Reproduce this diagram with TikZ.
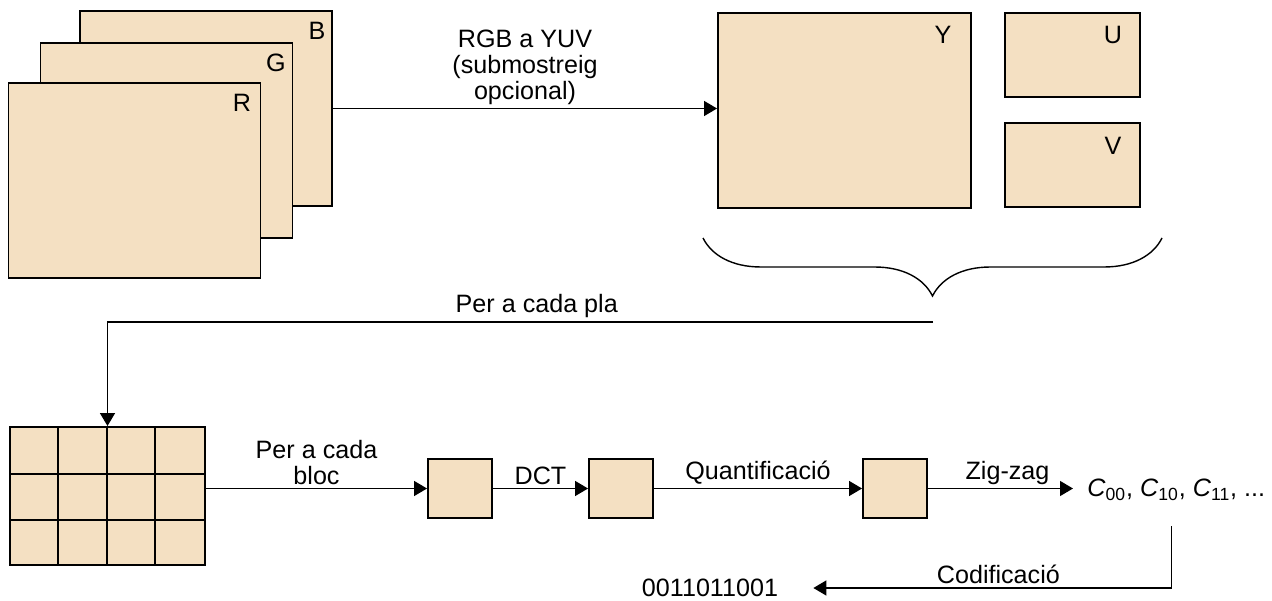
\documentclass[tikz,border=0pt]{standalone}
\usepackage{fontspec}
\setmainfont{Liberation Sans}
\usetikzlibrary{arrows.meta,decorations.pathreplacing,positioning}

\definecolor{planefill}{RGB}{244,224,194}

\tikzset{
  every node/.style={font=\fontsize{14.3}{14.8}\selectfont},
  plane/.style={rectangle, draw, fill=planefill, line width=1.1pt, inner sep=0pt},
  flow/.style={-{Triangle[length=2.6mm,width=3mm]}, line width=0.8pt},
  lbl/.style={above, align=center, inner sep=2pt}
}

\begin{document}
\begin{tikzpicture}

\useasboundingbox (0,0) rectangle (25.44,-12.02);

% Planes
\draw (4.12,-2.17) node [plane, minimum width=5.04cm, minimum height=3.9cm] (Bplane) {};
\draw (3.33,-2.81) node [plane, minimum width=5.04cm, minimum height=3.9cm] (Gplane) {};
\draw (2.69,-3.61) node [plane, minimum width=5.04cm, minimum height=3.9cm] (Rplane) {};
\draw (6.34,-0.62) node (Blabel) {B};
\draw (5.52,-1.26) node (Glabel) {G};
\draw (4.84,-2.06) node (Rlabel) {R};

\draw (16.89,-2.21) node [plane, minimum width=5.06cm, minimum height=3.9cm] (Yplane) {};
\draw (21.45,-1.10) node [plane, minimum width=2.7cm, minimum height=1.68cm] (Uplane) {};
\draw (21.45,-3.30) node [plane, minimum width=2.7cm, minimum height=1.68cm] (Vplane) {};
\draw (18.86,-0.70) node (Ylabel) {Y};
\draw (22.26,-0.70) node (Ulabel) {U};
\draw (22.26,-2.92) node (Vlabel) {V};

% Blocks
\draw (2.15,-9.92) node [plane, minimum width=3.9cm, minimum height=2.76cm] (blocks) {};
\foreach \i in {1,2,3}
  \draw [line width=1.1pt] (blocks.south west) ++(\i*0.975,0) -- ++(0,2.76);
\foreach \j in {1,2}
  \draw [line width=1.1pt] (blocks.south west) ++(0,\j*0.92) -- ++(3.9,0);

\draw (9.20,-9.77) node [plane, minimum width=1.28cm, minimum height=1.18cm] (blk1) {};
\draw (12.42,-9.77) node [plane, minimum width=1.28cm, minimum height=1.18cm] (blk2) {};
\draw (17.90,-9.77) node [plane, minimum width=1.28cm, minimum height=1.18cm] (blk3) {};

\draw (21.74,-9.80) node [anchor=west, inner sep=0pt] (coefs) {\textit{C}\textsubscript{00}, \textit{C}\textsubscript{10}, \textit{C}\textsubscript{11}, ...};
\draw (14.20,-11.76) node [inner sep=0pt] (bits) {0011011001};

% Brace
\coordinate (braceR) at (23.24,-4.76);
\coordinate (braceL) at (14.06,-4.76);
\coordinate (perplane) at (18.66,-6.44);
\draw [decorate, decoration={brace, amplitude=1.16cm}, line width=0.8pt] (braceR) -- (braceL);

% Lines
\draw [flow] (Bplane.east) -- (Yplane.west |- Bplane.east) node [lbl, midway] {RGB a YUV\\(submostreig\\opcional)};
\draw [flow] (perplane) -| (blocks.north) node [lbl, pos=0.24] {Per a cada pla};
\draw [flow] (blocks.east |- blk1.west) -- (blk1.west) node [lbl, midway] {Per a cada\\bloc};
\draw [flow] (blk1) -- (blk2) node [lbl, midway] {DCT};
\draw [flow] (blk2) -- (blk3) node [lbl, midway] {Quantificació};
\draw [flow, shorten >=0.28cm] (blk3.east) -- (blk3.east -| coefs.west) node [lbl, midway] {Zig-zag};
\draw [flow, shorten <=0.5cm, shorten >=0.7cm] ([xshift=-0.1cm]coefs.south) |- (bits.east) node [lbl, pos=0.72] {Codificació};

\end{tikzpicture}
\end{document}
